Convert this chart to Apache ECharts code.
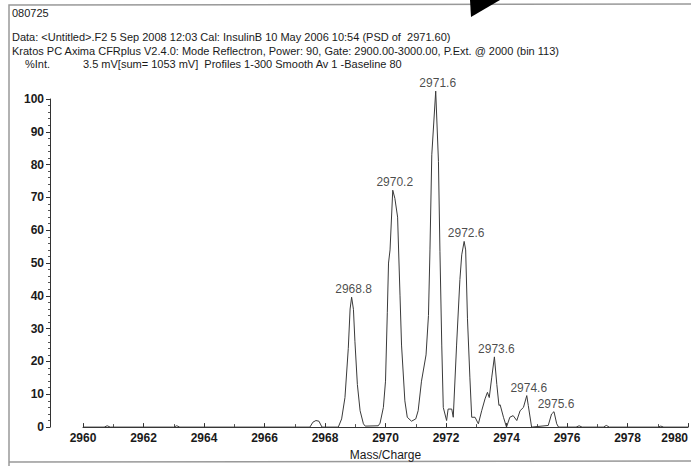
<!DOCTYPE html>
<html lang="en">
<head>
  <meta charset="UTF-8">
  <title>080725 PSD spectrum</title>
  <style>
    * {
      padding: 0;
      margin: 0;
      box-sizing: border-box;
    }

    body {
      background: #fff;
    }

    #chart {
      width: 691px;
      height: 466px;
    }
  </style>
</head>
<body>
  <div id="chart"></div>

  <script src="https://cdn.jsdelivr.net/npm/echarts@6/dist/echarts.min.js"></script>
  <script>
    // profile: mass/charge and %Int.
    const mass = [
      2960.0, 2960.7, 2960.8, 2960.9, 2963.0, 2963.1, 2963.2, 2967.5, 2967.6, 2967.7,
      2967.8, 2967.9, 2968.44, 2968.55, 2968.66, 2968.77, 2968.83, 2968.88, 2968.94, 2968.99,
      2969.07, 2969.16, 2969.27, 2969.33, 2969.76, 2969.82, 2969.93, 2970.0, 2970.06, 2970.1,
      2970.15, 2970.24, 2970.31, 2970.4, 2970.48, 2970.53, 2970.64, 2970.72, 2970.86, 2971.0,
      2971.08, 2971.19, 2971.34, 2971.42, 2971.47, 2971.53, 2971.66, 2971.75, 2971.8, 2971.86,
      2971.91, 2972.02, 2972.07, 2972.19, 2972.24, 2972.35, 2972.46, 2972.52, 2972.6, 2972.65,
      2972.71, 2972.79, 2972.85, 2972.96, 2973.07, 2973.18, 2973.29, 2973.37, 2973.43, 2973.51,
      2973.6, 2973.68, 2973.75, 2973.79, 2973.9, 2974.0, 2974.11, 2974.22, 2974.34, 2974.45,
      2974.56, 2974.67, 2974.72, 2974.83, 2975.38, 2975.49, 2975.57, 2975.66, 2975.72, 2976.3,
      2976.4, 2976.5, 2977.2, 2977.3, 2977.4, 2979.0, 2979.1, 2979.2, 2980.0
    ];
    const intensity = [
      0, 0, 0.4, 0, 0, 0.4, 0, 0, 1.5, 2.0,
      1.8, 0, 0, 2.5, 9, 24, 36, 39.6, 35.9, 26,
      13, 5, 1, 0.3, 0.4, 1.2, 6, 14, 35, 50,
      54, 72.2, 69.7, 64, 40, 25, 8, 3, 1.8, 2.5,
      5, 14, 22, 34, 54, 83, 102.4, 81, 53.6, 25,
      6, 2, 5.5, 5.5, 3, 25, 45, 52.5, 56.6, 54,
      33, 15, 3, 3, 1, 5, 8.6, 10.6, 9, 15,
      21.4, 13, 6.6, 6.8, 3, 0, 3, 3.5, 2, 5,
      6, 9.6, 6.6, 0, 0.5, 4, 4.7, 1, 0, 0,
      0.4, 0, 0, 0.5, 0, 0, 0.3, 0, 0
    ];

    // labelled peaks (apex position and the printed label)
    const peakMass = [2968.88, 2970.24, 2971.66, 2972.6, 2973.6, 2974.67, 2975.57];
    const peakInt = [39.6, 72.2, 102.4, 56.6, 21.4, 9.6, 4.7];
    const peakLabels = ['2968.8', '2970.2', '2971.6', '2972.6', '2973.6', '2974.6', '2975.6'];

    const headerLines = [
      '080725',
      'Data: <Untitled>.F2 5 Sep 2008 12:03 Cal: InsulinB 10 May 2006 10:54 (PSD of  2971.60)',
      'Kratos PC Axima CFRplus V2.4.0: Mode Reflectron, Power: 90, Gate: 2900.00-3000.00, P.Ext. @ 2000 (bin 113)'
    ];
    const yName = '%Int.';
    const acqInfo = '3.5 mV[sum= 1053 mV]  Profiles 1-300 Smooth Av 1 -Baseline 80';
    const xName = 'Mass/Charge';

    const font = 'Arial, "Liberation Sans", sans-serif';
    const ink = '#1a1a1a';

    const chart = echarts.init(document.getElementById('chart'), null, { renderer: 'svg' });

    const headerY = [13, 37, 51];
    const graphic = headerLines.map((t, i) => ({
      type: 'text',
      x: 12,
      y: headerY[i],
      style: { text: t, fill: ink, font: '11px ' + font, verticalAlign: 'middle' }
    }));
    graphic.push(
      { type: 'text', x: 25, y: 64, style: { text: yName, fill: ink, font: '11px ' + font, verticalAlign: 'middle' } },
      { type: 'text', x: 83, y: 64, style: { text: acqInfo, fill: ink, font: '11px ' + font, verticalAlign: 'middle' } },
      // scanned page frame
      { type: 'polyline', shape: { points: [[9, 466], [9, 5], [691, 4]] }, style: { stroke: '#999', lineWidth: 1.5, fill: null } },
      { type: 'line', shape: { x1: 9, y1: 462, x2: 691, y2: 461 }, style: { stroke: '#999', lineWidth: 1.5 } },
      // black corner mark at the top
      { type: 'polygon', shape: { points: [[470, 0], [500, 0], [471, 17]] }, style: { fill: '#000' } }
    );

    const option = {
      animation: false,
      backgroundColor: '#fff',
      textStyle: { fontFamily: font },
      graphic: graphic,
      grid: { left: 83, right: 3, top: 99, bottom: 36 },
      xAxis: {
        type: 'value',
        min: 2960,
        max: 2980,
        interval: 2,
        name: xName,
        nameLocation: 'middle',
        nameGap: 15,
        nameTextStyle: { color: ink, fontSize: 12, fontFamily: font, verticalAlign: 'top' },
        axisLine: { onZero: false, lineStyle: { color: '#333', width: 1 } },
        axisTick: { inside: true, length: 4, lineStyle: { color: '#333' } },
        minorTick: { show: true, splitNumber: 2, length: 3, lineStyle: { color: '#555' } },
        axisLabel: {
          color: ink, fontSize: 12, fontWeight: 'bold', fontFamily: font, margin: 5,
          alignMaxLabel: 'right',
          formatter: v => String(v)
        },
        splitLine: { show: false }
      },
      yAxis: {
        type: 'value',
        min: 0,
        max: 100,
        interval: 10,
        offset: 33,
        axisLine: { show: true, lineStyle: { color: '#333', width: 1 } },
        axisTick: { show: true, length: 4, lineStyle: { color: '#333' } },
        minorTick: { show: true, splitNumber: 5, length: 2, lineStyle: { color: '#555' } },
        axisLabel: { color: ink, fontSize: 12, fontWeight: 'bold', fontFamily: font, margin: 6 },
        splitLine: { show: false }
      },
      series: [
        {
          type: 'line',
          data: mass.map((m, i) => [m, intensity[i]]),
          showSymbol: false,
          symbol: 'none',
          clip: false,
          lineStyle: { color: '#3a3a3a', width: 1 }
        },
        {
          type: 'scatter',
          data: peakMass.map((m, i) => [m, peakInt[i]]),
          symbolSize: 0,
          clip: false,
          label: {
            show: true,
            position: 'top',
            distance: 2,
            offset: [2, 0],
            color: ink,
            fontSize: 12,
            fontFamily: font,
            formatter: p => peakLabels[p.dataIndex]
          }
        }
      ]
    };

    chart.setOption(option);
  </script>
</body>
</html>
